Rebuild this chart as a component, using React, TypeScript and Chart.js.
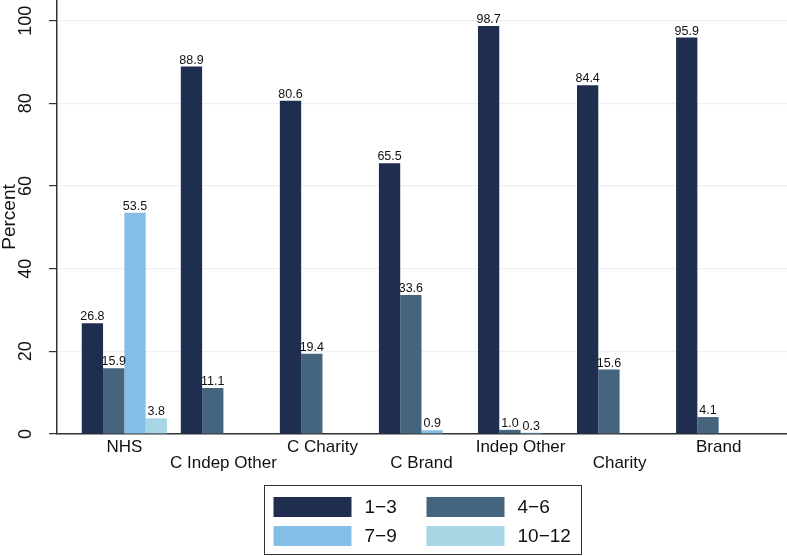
import React, { useEffect, useRef } from "react";
import { Chart, registerables } from "chart.js";

Chart.register(...registerables);

const categories = ["NHS", "C Indep Other", "C Charity", "C Brand", "Indep Other", "Charity", "Brand"];
const seriesNames = ["1\u22123", "4\u22126", "7\u22129", "10\u221212"];
const s13 = [26.8, 88.9, 80.6, 65.5, 98.7, 84.4, 95.9];
const s46 = [15.9, 11.1, 19.4, 33.6, 1.0, 15.6, 4.1];
const s79 = [53.5, null, null, 0.9, 0.3, null, null];
const s1012 = [3.8, null, null, null, null, null, null];
const yTicks = [0, 20, 40, 60, 80, 100];
const colors = ["#1f2d50", "#45647d", "#84bde6", "#a9d6e4"];

const FONT = "'Liberation Sans', Arial, Helvetica, sans-serif";

const valueLabels = {
  id: "valueLabels",
  afterDatasetsDraw(chart: any) {
    const ctx = chart.ctx;
    ctx.save();
    ctx.font = `12.5px ${FONT}`;
    ctx.fillStyle = "#111";
    ctx.textAlign = "center";
    ctx.textBaseline = "alphabetic";
    chart.data.datasets.forEach((ds: any, di: number) => {
      const meta = chart.getDatasetMeta(di);
      meta.data.forEach((el: any, i: number) => {
        const v = ds.data[i].y;
        if (v === null || v === undefined) return;
        ctx.fillText(v.toFixed(1), el.x, el.y - 3);
      });
    });
    ctx.restore();
  },
};

const yLabels = {
  id: "yLabels",
  afterDraw(chart: any) {
    const ctx = chart.ctx;
    const y = chart.scales.y;
    ctx.save();
    ctx.font = `18px ${FONT}`;
    ctx.fillStyle = "#111";
    ctx.textAlign = "center";
    ctx.textBaseline = "alphabetic";
    yTicks.forEach((t) => {
      const py = y.getPixelForValue(t);
      ctx.save();
      ctx.translate(31, py);
      ctx.rotate(-Math.PI / 2);
      ctx.fillText(String(t), 0, 0);
      ctx.restore();
    });
    ctx.restore();
  },
};

const boxLegend = {
  id: "boxLegend",
  afterDraw(chart: any) {
    const ctx = chart.ctx;
    const ca = chart.chartArea;
    const cx = (ca.left + ca.right) / 2;
    const w = 317;
    const left = Math.round(cx - w / 2) + 0.5;
    const top = 485.5;
    const h = 69;
    ctx.save();
    ctx.fillStyle = "#fff";
    ctx.fillRect(left, top, w, h);
    ctx.strokeStyle = "#333";
    ctx.lineWidth = 1;
    ctx.strokeRect(left, top, w, h);
    ctx.font = `19px ${FONT}`;
    ctx.textAlign = "left";
    ctx.textBaseline = "middle";
    chart.data.datasets.forEach((ds: any, i: number) => {
      const col = i % 2;
      const row = Math.floor(i / 2);
      const sx = left + 9 + col * 153;
      const sy = top + 11.5 + row * 29;
      ctx.fillStyle = ds.backgroundColor;
      ctx.fillRect(sx, sy, 78, 20);
      ctx.fillStyle = "#111";
      ctx.fillText(ds.label, sx + 91, sy + 11);
    });
    ctx.restore();
  },
};

export default function App() {
  const ref = useRef<HTMLCanvasElement | null>(null);
  useEffect(() => {
    document.body.style.margin = "0";
    const all = [s13, s46, s79, s1012];
    const chart = new Chart(ref.current as HTMLCanvasElement, {
      type: "bar",
      data: {
        datasets: all.map((arr, di) => ({
          label: seriesNames[di],
          data: arr.map((v, i) => ({ x: i, y: v })) as any,
          backgroundColor: colors[di],
          borderWidth: 0,
          categoryPercentage: 0.86,
          barPercentage: 1.0,
        })),
      },
      options: {
        animation: false,
        responsive: false,
        devicePixelRatio: 1,
        layout: { padding: { top: 0, right: 0, left: 0, bottom: 82 } },
        plugins: {
          legend: { display: false },
          tooltip: { enabled: false },
        },
        scales: {
          x: {
            type: "linear",
            min: -0.68,
            max: 6.69,
            offset: false,
            afterBuildTicks: (scale: any) => {
              scale.ticks = categories.map((_, i) => ({ value: i }));
            },
            afterFit: (scale: any) => {
              scale.height = 40;
            },
            grid: { display: false, drawTicks: false, offset: false },
            border: { display: true, color: "#333", width: 1.5 },
            ticks: {
              autoSkip: false,
              maxRotation: 0,
              minRotation: 0,
              padding: 5,
              color: "#111",
              font: { family: FONT, size: 17, lineHeight: 0.97 },
              callback: (v: any) => {
                const i = Math.round(Number(v));
                const lab = categories[i];
                if (lab === undefined) return "";
                return i % 2 === 1 ? ["", lab] : lab;
              },
            },
          },
          y: {
            min: 0,
            max: 105,
            afterBuildTicks: (scale: any) => {
              scale.ticks = yTicks.map((t) => ({ value: t }));
            },
            afterFit: (scale: any) => {
              scale.width = 57;
            },
            ticks: { display: false, includeBounds: false },
            grid: {
              color: "#e9f1f3",
              lineWidth: 1.2,
              tickColor: "#333",
              tickLength: 8,
              drawTicks: true,
            },
            border: { display: true, color: "#333", width: 1.5 },
            title: {
              display: true,
              text: "Percent",
              color: "#111",
              padding: { top: -2, bottom: 0 },
              font: { family: FONT, size: 19 },
            },
          },
        },
      },
      plugins: [valueLabels, yLabels, boxLegend],
    });
    return () => chart.destroy();
  }, []);
  return <canvas ref={ref} width={787} height={556} style={{ display: "block" }} />;
}
